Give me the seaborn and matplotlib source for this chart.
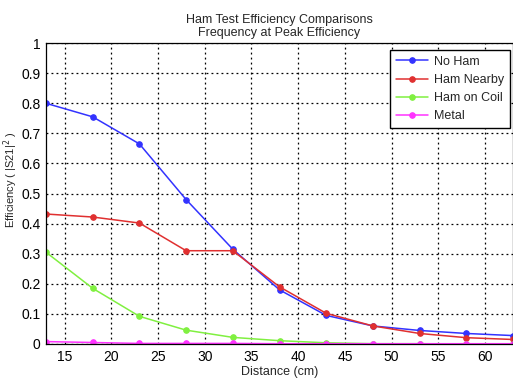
import matplotlib
matplotlib.use("Agg")
import matplotlib.pyplot as plt
import seaborn as sns
import pandas as pd

distance = [13, 18, 23, 28, 33, 38, 43, 48, 53, 58, 63]
no_ham = [0.80, 0.755, 0.665, 0.48, 0.315, 0.18, 0.095, 0.06, 0.045, 0.035, 0.028]
ham_nearby = [0.432, 0.422, 0.402, 0.31, 0.31, 0.19, 0.102, 0.06, 0.035, 0.021, 0.015]
ham_on_coil = [0.305, 0.185, 0.092, 0.046, 0.022, 0.011, 0.004, 0.001, 0.001, 0.0, 0.0]
metal = [0.008, 0.005, 0.002, 0.002, 0.002, 0.001, 0.001, 0.001, 0.001, 0.001, 0.001]
series_names = ["No Ham", "Ham Nearby", "Ham on Coil", "Metal"]
colors = ["#3333ff", "#e03030", "#80f040", "#ff33ff"]

rows = []
for name, vals in zip(series_names, [no_ham, ham_nearby, ham_on_coil, metal]):
    for d, v in zip(distance, vals):
        rows.append({"Distance": d, "Efficiency": v, "Series": name})
df = pd.DataFrame(rows)

sns.set_style("white")
plt.rcParams["font.family"] = ["Liberation Sans", "DejaVu Sans"]

fig = plt.figure(figsize=(5.13, 3.85), dpi=100)
ax = fig.add_axes([0.0897, 0.1065, 0.9103, 0.7815])

for name, c in zip(series_names, colors):
    sub = df[df["Series"] == name]
    sns.lineplot(data=sub, x="Distance", y="Efficiency", ax=ax, color=c,
                 marker="o", markersize=4, markeredgecolor=c, linewidth=1.1,
                 label=name)

ax.set_xlim(13, 63)
ax.set_ylim(0, 1)
ax.set_xticks([15, 20, 25, 30, 35, 40, 45, 50, 55, 60])
yt = [0, 0.1, 0.2, 0.3, 0.4, 0.5, 0.6, 0.7, 0.8, 0.9, 1]
ax.set_yticks(yt)
ax.set_yticklabels(["0", "0.1", "0.2", "0.3", "0.4", "0.5", "0.6", "0.7", "0.8", "0.9", "1"])
ax.grid(True, color="black", linestyle=(0, (1.5, 2.5)), linewidth=0.9)
ax.tick_params(direction="in", length=4, labelsize=10, colors="black", width=0.8, pad=4)
for s in ax.spines.values():
    s.set_color("black")
    s.set_linewidth(0.9)

ax.set_xlabel("Distance (cm)", fontsize=9, labelpad=2)
ax.set_ylabel(r"Efficiency ( |S21|$^{2}$ )", fontsize=8)
ax.yaxis.set_label_coords(-0.056, 0.545)
ax.set_title("Ham Test Efficiency Comparisons\nFrequency at Peak Efficiency", fontsize=9, linespacing=1.15, pad=5)

leg = ax.legend(loc="upper right", bbox_to_anchor=(0.994, 0.977), fontsize=9,
                frameon=True, fancybox=False, edgecolor="black", framealpha=1,
                handlelength=2.6, handletextpad=0.5, borderpad=0.45, labelspacing=0.5,
                borderaxespad=0)
leg.get_frame().set_linewidth(1.0)

fig.savefig("out.png", dpi=100)
